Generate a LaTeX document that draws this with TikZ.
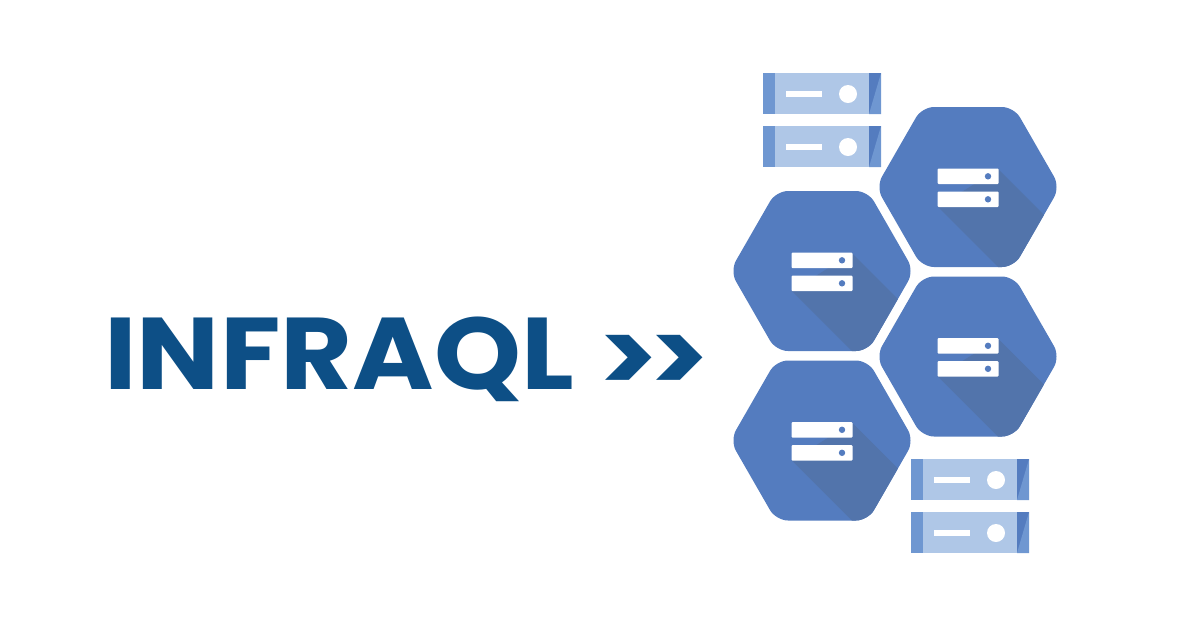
\documentclass[tikz,border=0pt]{standalone}
\usepackage{fontspec}
\setmainfont{Poppins}
\definecolor{titleblue}{HTML}{0D4F86}
\definecolor{hexblue}{HTML}{547CBF}
\definecolor{hexshade}{HTML}{5274AB}
\definecolor{rackpale}{HTML}{AFC7E7}
\definecolor{rackmid}{HTML}{6F97D1}
\tikzset{
  titletext/.style={anchor=base west,inner sep=0pt,text=titleblue,font=\fontsize{58}{60}\selectfont\bfseries},
  hexcell/.pic={
    \begin{scope}
      \clip[rounded corners=0.24cm] (-46,-80) -- (46,-80) -- (92,0) -- (46,80) -- (-46,80) -- (-92,0) -- cycle;
      \fill[hexblue] (-95,-85) rectangle (95,85);
      \fill[hexshade] (30,-18) -- (95,47) -- (95,85) -- (35,85) -- (-30,20) -- cycle;
    \end{scope}
    \foreach \y in {-18.5,4.5} {
      \fill[white,rounded corners=0.02cm] (-30.5,\y) rectangle (30.5,\y+15.5);
      \fill[hexblue] (20,\y+7.8) circle[radius=3.2];
    }
  },
  rackunit/.pic={
    \fill[rackpale] (0,0) rectangle (118,41);
    \fill[rackmid] (0,0) rectangle (12,41);
    \fill[hexblue] (106,0) rectangle (118,41);
    \fill[rackmid] (106,41) -- (118,0) -- (118,41) -- cycle;
    \fill[white] (23,18) rectangle (59,24);
    \fill[white] (85,21) circle[radius=9];
  }
}
\begin{document}
\begin{tikzpicture}[x=0.02cm,y=-0.02cm]
\useasboundingbox (0,0) rectangle (1200,627);
% title
\node[titletext] (title) at (104,389) {\scalebox{1.085}[1]{INFRAQL}};
\node[titletext] (chevrons) at (598,393) {\scalebox{1.09}[1]{{>}\kern-0.08em{>}}};
% hexagons
\foreach \cx/\cy in {968/187,822/271,968/356.5,822/440.5} {
  \pic at (\cx,\cy) {hexcell};
}
% racks
\foreach \rx/\ry in {763/73,763/126,911/459,911/512} {
  \pic at (\rx,\ry) {rackunit};
}
\end{tikzpicture}
\end{document}
